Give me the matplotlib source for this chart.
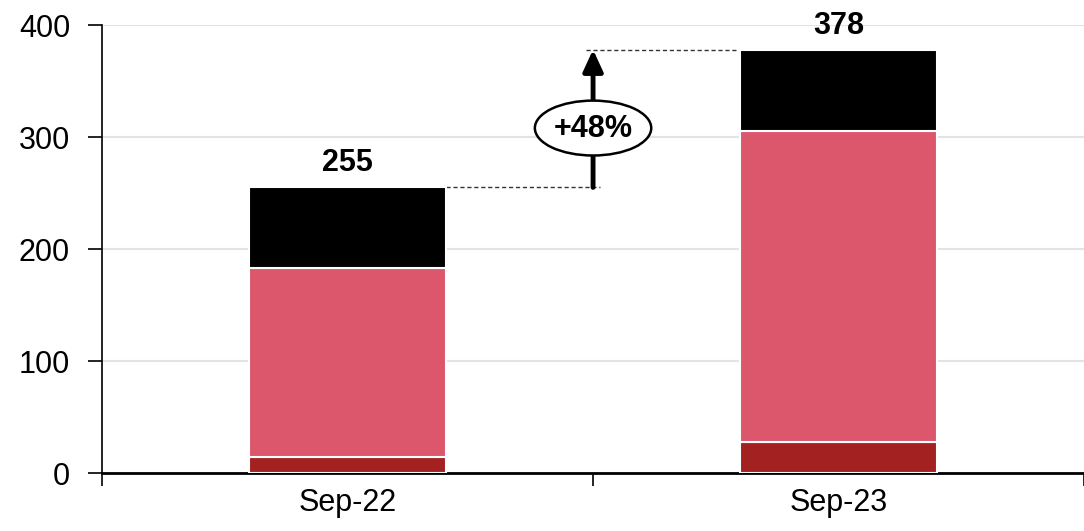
import numpy as np
import matplotlib
matplotlib.use("Agg")
import matplotlib.pyplot as plt
from matplotlib.patches import Ellipse

plt.rcParams['font.family'] = ['Liberation Sans', 'DejaVu Sans']

# stacked components per period
periods = ["Sep-22", "Sep-23"]
bottom_part = [14, 28]
middle_part = [169, 277]
top_part = [72, 73]
totals = [255, 378]

c_bottom = "#A32121"
c_middle = "#DC566C"
c_top = "#000000"

fig = plt.figure(figsize=(10.84, 5.31), dpi=100)
ax = fig.add_axes([0.0941, 0.1092, 0.906, 0.8437])

x = np.array([0.5, 1.5])
w = 0.4
b1 = np.array(bottom_part)
b2 = b1 + np.array(middle_part)
ax.bar(x, bottom_part, w, color=c_bottom, edgecolor="white", linewidth=1.5, zorder=3)
ax.bar(x, middle_part, w, bottom=b1, color=c_middle, edgecolor="white", linewidth=1.5, zorder=3)
ax.bar(x, top_part, w, bottom=b2, color=c_top, edgecolor="white", linewidth=1.5, zorder=3)

# total labels above bars
for xi, t in zip(x, totals):
    ax.text(xi, t + 8, str(t), ha="center", va="bottom", fontsize=22, fontweight="bold")

# growth arrow between the two totals
ax.plot([x[0] + w / 2, 1.015], [totals[0], totals[0]], ls=(0, (3, 2)), color="#333333", lw=1, zorder=2)
ax.plot([0.985, x[1] - w / 2], [totals[1], totals[1]], ls=(0, (3, 2)), color="#333333", lw=1, zorder=2)
ax.annotate("", xy=(1.0, totals[1]), xytext=(1.0, totals[0]),
            arrowprops=dict(arrowstyle="-|>,head_width=0.6,head_length=1.3", lw=3.5, color="black",
                            shrinkA=0, shrinkB=0), zorder=4)
growth = (totals[1] / totals[0] - 1) * 100
ell = Ellipse((1.0, 308), 0.237, 49, facecolor="white", edgecolor="black", lw=1.8, zorder=5)
ax.add_patch(ell)
ax.text(1.0, 307, "+%d%%" % round(growth), ha="center", va="center", fontsize=22,
        fontweight="bold", zorder=6)

ax.set_xlim(0, 1.992)
ax.set_ylim(0, 400)
ax.set_yticks([0, 100, 200, 300, 400])
ax.set_xticks([0, 1, 2])
ax.set_xticklabels([])
ax.set_xticks(x, minor=True)
ax.set_xticklabels(periods, minor=True)
ax.tick_params(axis="x", which="minor", length=0, labelsize=22, pad=11)
ax.tick_params(axis="x", which="major", length=9, width=1.2, direction="out")
ax.tick_params(axis="y", labelsize=22, length=10, width=1.2, direction="out", pad=13)
ax.yaxis.grid(True, color="#E3E3E3", lw=1.5, zorder=0)
ax.set_axisbelow(True)

for s in ["top", "right"]:
    ax.spines[s].set_visible(False)
ax.spines["left"].set_linewidth(1.2)
ax.spines["bottom"].set_linewidth(2)

fig.savefig("out.png", dpi=100)
